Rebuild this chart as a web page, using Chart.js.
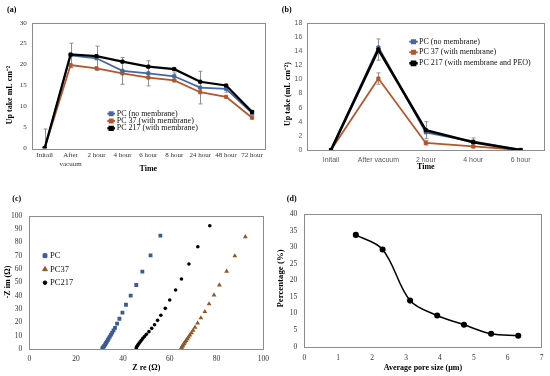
<!DOCTYPE html>
<html>
<head>
<meta charset="utf-8">
<script src="https://cdn.jsdelivr.net/npm/chart.js@4"></script>
<style>
  html, body { margin: 0; padding: 0; background: #fff; }
  #wrap { position: relative; width: 550px; height: 376px; overflow: hidden; }
  .panel { position: absolute; }
  canvas { display: block; }
</style>
</head>
<body>
<div id="wrap">
  <div class="panel" style="left:0;top:0"><canvas id="ca" width="275" height="185"></canvas></div>
  <div class="panel" style="left:275px;top:0"><canvas id="cb" width="275" height="185"></canvas></div>
  <div class="panel" style="left:0;top:185px"><canvas id="cc" width="275" height="191"></canvas></div>
  <div class="panel" style="left:275px;top:185px"><canvas id="cd" width="275" height="191"></canvas></div>
</div>
<script>
// (a) uptake over time
const timeLabelsA = ['Initail', ['After', 'vacuum'], '2 hour', '4 hour', '6 hour', '8 hour', '24 hour', '48 hour', '72 hour'];
const pcA    = [0, 22.2, 21.5, 18.5, 17.9, 17.2, 14.5, 14.2, 8.4];
const pc37A  = [0, 19.9, 19.1, 17.9, 16.9, 16.2, 13.4, 12.3, 7.3];
const pc217A = [0, 22.4, 22.0, 20.7, 19.5, 18.9, 15.9, 15.0, 8.7];
const errPcA = [4.6, 2.9, 2.9, 3.2, 3.0, 0.8, 3.9, 0.8, 0.5];

// (b) uptake over time, short run
const timeLabelsB = ['Initail', 'After vacuum', '2 hour', '4 hour', '6 hour'];
const pcB    = [0, 14.5, 2.5, 1.2, 0];
const pc37B  = [0, 10.1, 1.0, 0.5, 0];
const pc217B = [0, 14.2, 2.8, 1.1, 0];
const errPc217B = [0, 1.5, 1.2, 0.6, 0];
const errPc37B  = [0, 0.8, 0.3, 0.2, 0];

// (c) impedance, Z re / -Z im
const pcZre    = [56.0, 51.8, 48.3, 45.7, 43.3, 41.3, 39.8, 38.5, 37.5, 36.6, 36.0, 35.4, 34.9, 34.4, 33.9, 33.5, 33.1, 32.7, 32.4, 32.0, 31.7, 31.4, 31.2];
const pcZim    = [85.0, 70.3, 58.0, 48.0, 40.0, 33.2, 27.3, 22.7, 19.0, 15.8, 14.0, 12.3, 10.8, 9.3, 7.9, 6.6, 5.4, 4.3, 3.3, 2.4, 1.6, 0.9, 0.4];
const pc37Zre  = [92.3, 87.8, 84.3, 81.2, 78.9, 76.8, 75.0, 73.3, 71.9, 70.8, 70.0, 69.3, 68.6, 68.0, 67.5, 67.0, 66.5, 66.1, 65.7, 65.4, 65.1, 64.9];
const pc37Zim  = [84.2, 69.8, 58.3, 48.0, 40.5, 33.8, 28.0, 23.3, 19.5, 16.3, 14.0, 12.2, 10.5, 9.0, 7.6, 6.3, 5.1, 4.0, 3.0, 2.1, 1.3, 0.6];
const pc217Zre = [77.1, 72.0, 68.2, 65.0, 62.5, 60.0, 58.1, 56.2, 54.8, 53.5, 52.3, 51.1, 50.0, 49.2, 48.5, 47.9, 47.4, 46.9, 46.5, 46.2, 45.9, 45.7];
const pc217Zim = [92.5, 76.7, 63.8, 52.5, 44.3, 36.8, 30.5, 25.3, 21.5, 18.2, 15.5, 13.0, 11.0, 9.4, 8.0, 6.6, 5.4, 4.3, 3.3, 2.4, 1.6, 0.9];

// (d) pore size distribution
const poreSize   = [1.52, 2.31, 3.12, 3.92, 4.71, 5.51, 6.31];
const percentage = [33.7, 29.3, 13.9, 9.4, 6.6, 3.9, 3.3];

const SERIF = 'Liberation Serif';
const SANS = 'Liberation Sans';
const BLUE = '#4767a0';
const BROWN = '#b5552b';
const BLACK = '#000000';

const xy = (xs, ys) => xs.map((x, i) => ({ x: x, y: ys[i] }));

// grey box round the plot area
const framePlugin = {
  id: 'frame',
  beforeDatasetsDraw(chart) {
    const { ctx, chartArea: a } = chart;
    ctx.save();
    ctx.strokeStyle = '#8c8c8c';
    ctx.lineWidth = 1;
    ctx.strokeRect(Math.round(a.left) + 0.5, Math.round(a.top) + 0.5,
      Math.round(a.right - a.left), Math.round(a.bottom - a.top));
    ctx.restore();
  }
};

// error bars from ds.errors
const errorPlugin = {
  id: 'errbars',
  beforeDatasetsDraw(chart) {
    const { ctx, chartArea: a } = chart;
    const ys = chart.scales.y;
    ctx.save();
    ctx.beginPath();
    ctx.rect(a.left, a.top, a.right - a.left, a.bottom - a.top);
    ctx.clip();
    chart.data.datasets.forEach((ds, i) => {
      if (!ds.errors) return;
      const meta = chart.getDatasetMeta(i);
      ctx.strokeStyle = '#8f8f8f';
      ctx.lineWidth = 1;
      meta.data.forEach((pt, j) => {
        const e = ds.errors[j];
        if (!e) return;
        const v = ds.data[j];
        const x = Math.round(pt.x) + 0.5;
        const y1 = ys.getPixelForValue(v + e);
        const y2 = ys.getPixelForValue(v - e);
        ctx.beginPath();
        ctx.moveTo(x, y1); ctx.lineTo(x, y2);
        ctx.moveTo(x - 2, y1); ctx.lineTo(x + 2, y1);
        ctx.moveTo(x - 2, y2); ctx.lineTo(x + 2, y2);
        ctx.stroke();
      });
    });
    ctx.restore();
  }
};

// legend keys, panel letters and y titles
const extrasPlugin = {
  id: 'extras',
  afterDraw(chart, args, opts) {
    const ctx = chart.ctx;
    ctx.save();
    (opts.keys || []).forEach(k => {
      const ds = chart.data.datasets[k.index];
      if (k.line) {
        ctx.strokeStyle = ds.borderColor;
        ctx.lineWidth = ds.borderWidth;
        ctx.beginPath();
        ctx.moveTo(k.x0, k.y);
        ctx.lineTo(k.x1, k.y);
        ctx.stroke();
      }
      ctx.fillStyle = ds.pointBackgroundColor;
      ctx.strokeStyle = ds.pointBorderColor;
      Chart.helpers.drawPoint(ctx, { pointStyle: ds.pointStyle, radius: ds.pointRadius, rotation: 0, borderWidth: 1 }, (k.x0 + k.x1) / 2, k.y);
      ctx.fillStyle = '#111';
      ctx.font = (opts.keySize || 8) + 'px "' + SERIF + '"';
      ctx.textAlign = 'left';
      ctx.textBaseline = 'middle';
      ctx.fillText(ds.label, k.tx, k.y);
    });
    (opts.texts || []).forEach(t => {
      ctx.save();
      ctx.fillStyle = '#000';
      ctx.font = 'bold ' + (t.size || 8) + 'px "' + SERIF + '"';
      ctx.textAlign = 'center';
      ctx.textBaseline = 'middle';
      ctx.translate(t.x, t.y);
      if (t.rot) ctx.rotate(t.rot);
      ctx.fillText(t.text, 0, 0);
      ctx.restore();
    });
    ctx.restore();
  }
};

function axes(o) {
  const tickFont = { family: o.tickFamily || SERIF, size: o.tickSize || 7 };
  const x = {
    type: o.xType || 'category',
    offset: !o.xType,
    grid: { display: false, drawTicks: false },
    border: { display: false },
    ticks: { font: tickFont, color: o.tickColor || '#333', padding: o.xPad, maxRotation: 0, autoSkip: false },
    title: { display: true, text: o.xTitle, color: '#000', font: { family: SERIF, size: 8, weight: 'bold' }, padding: { top: 0, bottom: o.xTitlePad } },
    afterFit: s => { s.height = o.xHeight; }
  };
  if (o.xType) {
    x.min = o.xMin; x.max = o.xMax; x.ticks.stepSize = o.xStep;
  }
  const y = {
    min: o.yMin, max: o.yMax,
    grid: { display: false, drawTicks: false },
    border: { display: false },
    ticks: { font: tickFont, color: o.tickColor || '#333', padding: o.yPad, stepSize: o.yStep },
    afterFit: s => { s.width = o.yWidth; }
  };
  return { x: x, y: y };
}

function baseOptions(pad, scales, extras) {
  return {
    responsive: false,
    animation: false,
    layout: { padding: pad },
    plugins: { legend: { display: false }, tooltip: { enabled: false }, extras: extras },
    scales: scales
  };
}

const lineDs = (label, data, color, width, order, extra) => Object.assign({
  label: label, data: data, borderColor: color, backgroundColor: color,
  pointBackgroundColor: color, pointBorderColor: color, borderWidth: width,
  pointStyle: 'rect', pointRadius: 2.2, pointBorderWidth: 1, tension: 0, order: order
}, extra || {});

// (a)
new Chart(document.getElementById('ca'), {
  type: 'line',
  data: {
    labels: timeLabelsA,
    datasets: [
      lineDs('PC (no membrane)', pcA, BLUE, 1.8, 2, { errors: errPcA }),
      lineDs('PC 37 (with membrane)', pc37A, BROWN, 1.8, 3),
      lineDs('PC 217 (with membrane)', pc217A, BLACK, 2.2, 1)
    ]
  },
  options: baseOptions({ left: 0, top: 22.7, right: 10, bottom: 0 },
    axes({ xTitle: 'Time', xPad: 3, xTitlePad: 11, xHeight: 36.7, yMin: 0, yMax: 30, yStep: 5, yPad: 5, yWidth: 31.7 }),
    {
      keys: [
        { index: 0, line: true, x0: 107.3, x1: 115, y: 113.7, tx: 116.7 },
        { index: 1, line: true, x0: 107.3, x1: 115, y: 121, tx: 116.7 },
        { index: 2, line: true, x0: 107.3, x1: 115, y: 128.3, tx: 116.7 }
      ],
      texts: [
        { text: '(a)', x: 11.7, y: 10 },
        { text: 'Up take mL cm\u207B\u00B2', x: 10, y: 95, rot: -Math.PI / 2 }
      ]
    }),
  plugins: [framePlugin, errorPlugin, extrasPlugin]
});

// (b)
new Chart(document.getElementById('cb'), {
  type: 'line',
  data: {
    labels: timeLabelsB,
    datasets: [
      lineDs('PC (no membrane)', pcB, BLUE, 2, 2),
      lineDs('PC 37 (with membrane)', pc37B, BROWN, 1.8, 3, { errors: errPc37B }),
      lineDs('PC 217 (with membrane and PEO)', pc217B, BLACK, 2.6, 1, { errors: errPc217B })
    ]
  },
  options: baseOptions({ left: 0, top: 22.7, right: 5.7, bottom: 0 },
    axes({ xTitle: 'Time', tickFamily: SANS, tickColor: '#595959', xPad: 5.5, xTitlePad: 13.5, xHeight: 35, yMin: 0, yMax: 18, yStep: 2, yPad: 5, yWidth: 32.3 }),
    {
      keys: [
        { index: 0, line: true, x0: 134.3, x1: 142.7, y: 41.7, tx: 144 },
        { index: 1, line: true, x0: 134.3, x1: 142.7, y: 52.3, tx: 144 },
        { index: 2, line: true, x0: 134.3, x1: 142.7, y: 63.3, tx: 144 }
      ],
      texts: [
        { text: '(b)', x: 11.7, y: 10 },
        { text: 'Up take (mL cm\u207B\u00B2)', x: 13, y: 94, rot: -Math.PI / 2 }
      ]
    }),
  plugins: [framePlugin, errorPlugin, extrasPlugin]
});

// (c)
new Chart(document.getElementById('cc'), {
  type: 'scatter',
  data: {
    datasets: [
      { label: 'PC', data: xy(pcZre, pcZim), pointStyle: 'rect', pointRadius: 2.7, pointBorderWidth: 0,
        pointBackgroundColor: '#3d5b93', pointBorderColor: '#3d5b93', backgroundColor: '#3d5b93' },
      { label: 'PC37', data: xy(pc37Zre, pc37Zim), pointStyle: 'triangle', pointRadius: 2.8, pointBorderWidth: 0,
        pointBackgroundColor: '#8d5a2a', pointBorderColor: '#8d5a2a', backgroundColor: '#8d5a2a' },
      { label: 'PC217', data: xy(pc217Zre, pc217Zim), pointStyle: 'circle', pointRadius: 1.8, pointBorderWidth: 0,
        pointBackgroundColor: '#000', pointBorderColor: '#000', backgroundColor: '#000' }
    ]
  },
  options: baseOptions({ left: 0, top: 30.7, right: 8.3, bottom: 0 },
    axes({ xType: 'linear', xMin: 0, xMax: 100, xStep: 20, xTitle: 'Z re (\u03A9)', tickSize: 7.5, xPad: 6, xTitlePad: 3.2, xHeight: 27,
      yMin: 0, yMax: 100, yStep: 10, yPad: 7, yWidth: 29.3 }),
    {
      keySize: 8.5,
      keys: [
        { index: 0, x0: 45, x1: 45, y: 70.7, tx: 50 },
        { index: 1, x0: 45, x1: 45, y: 84.3, tx: 50 },
        { index: 2, x0: 45, x1: 45, y: 97.7, tx: 50 }
      ],
      texts: [
        { text: '(c)', x: 16.7, y: 14 },
        { text: '-Z im (\u03A9)', x: 8, y: 97, rot: -Math.PI / 2 }
      ]
    }),
  plugins: [framePlugin, extrasPlugin]
});

// (d)
new Chart(document.getElementById('cd'), {
  type: 'line',
  data: {
    datasets: [
      { label: 'Percentage', data: xy(poreSize, percentage), borderColor: '#000', borderWidth: 1.5,
        pointStyle: 'circle', pointRadius: 2.3, pointBackgroundColor: '#000', pointBorderColor: '#000',
        tension: 0.35, fill: false }
    ]
  },
  options: baseOptions({ left: 0, top: 29, right: 5.7, bottom: 0 },
    axes({ xType: 'linear', xMin: 0, xMax: 7, xStep: 1, xTitle: 'Average pore size (\u00B5m)', tickSize: 7.5, xPad: 6.5, xTitlePad: 3.2, xHeight: 29.3,
      yMin: 0, yMax: 40, yStep: 5, yPad: 7, yWidth: 29.3 }),
    {
      texts: [
        { text: '(d)', x: 16.7, y: 14 },
        { text: 'Percentage (%)', x: 6, y: 93.5, size: 8.8, rot: -Math.PI / 2 }
      ]
    }),
  plugins: [framePlugin, extrasPlugin]
});
</script>
</body>
</html>
